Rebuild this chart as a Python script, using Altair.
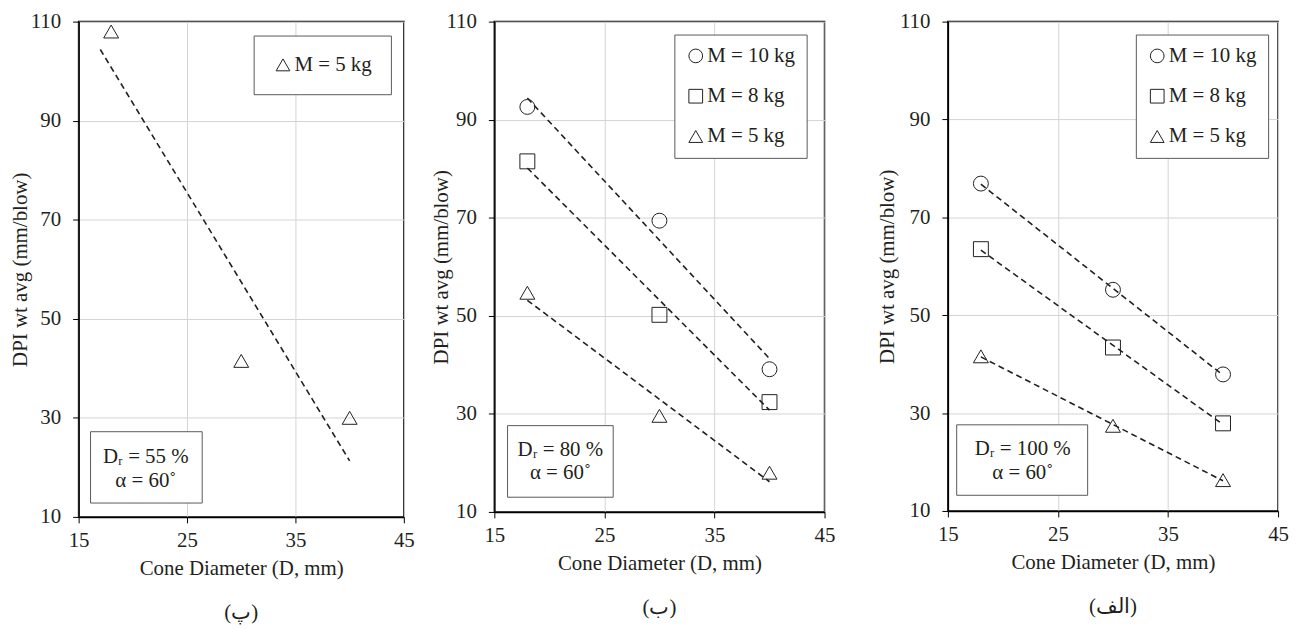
import altair as alt
import pandas as pd

# ---------------- data ----------------
diameters = [18, 30, 40]

dr55_m5 = [108.0, 41.5, 30.0]

dr80_m10 = [92.6, 69.4, 39.1]
dr80_m8 = [81.5, 50.2, 32.4]
dr80_m5 = [54.7, 29.6, 18.0]

dr100_m10 = [76.9, 55.2, 37.9]
dr100_m8 = [63.5, 43.4, 27.9]
dr100_m5 = [41.6, 27.4, 16.3]

mass_labels = ["M = 10 kg", "M = 8 kg", "M = 5 kg"]
mass_shapes = {"M = 10 kg": "circle", "M = 8 kg": "square", "M = 5 kg": "triangle-up"}

x_ticks = [15, 25, 35, 45]
y_ticks = [10, 30, 50, 70, 90, 110]

captions = ["(پ)", "(ب)", "(الف)"]
info_55 = ["Dᵣ = 55 %", "α = 60˚"]
info_80 = ["Dᵣ = 80 %", "α = 60˚"]
info_100 = ["Dᵣ = 100 %", "α = 60˚"]

x_title = "Cone Diameter (D, mm)"
y_title = "DPI wt avg (mm/blow)"

FONT = "Liberation Serif"
INK = "#231f20"
FS = 21


def long_df(series):
    rows = []
    for label, ys in series:
        for d, v in zip(diameters, ys):
            rows.append({"mass": label, "D": d, "DPI": v})
    return pd.DataFrame(rows)


def panel(df, labels, extent, w, h, leg_x, leg_y, leg_pad, box, text_x, text_ys,
          lines, caption, ytp):
    x_enc = alt.X(
        "D:Q",
        scale=alt.Scale(domain=[15, 45], nice=False, zero=False),
        axis=alt.Axis(values=x_ticks, title=x_title, labelFlush=False,
                      labelPadding=7, titlePadding=7),
    )
    y_enc = alt.Y(
        "DPI:Q",
        scale=alt.Scale(domain=[10, 110], nice=False, zero=False),
        axis=alt.Axis(values=y_ticks, title=y_title, labelPadding=12,
                      titlePadding=ytp),
    )
    pts = alt.Chart(df).mark_point(
        filled=False, color=INK, strokeWidth=1, size=225, opacity=1
    ).encode(
        x=x_enc,
        y=y_enc,
        shape=alt.Shape(
            "mass:N",
            scale=alt.Scale(domain=labels, range=[mass_shapes[l] for l in labels]),
            legend=alt.Legend(
                title=None, orient="none", legendX=leg_x, legendY=leg_y,
                padding=leg_pad, fillColor="white", strokeColor="#595959",
                labelFont=FONT, labelFontSize=FS, labelColor=INK,
                symbolSize=190, symbolStrokeWidth=1, symbolStrokeColor=INK,
                rowPadding=18.5, labelOffset=1,
            ),
        ),
    )
    trend = alt.Chart(df).transform_regression(
        "D", "DPI", groupby=["mass"], extent=extent
    ).mark_line(color=INK, strokeDash=[6, 4], strokeWidth=1.6).encode(
        x=x_enc, y=y_enc, detail="mass:N"
    )
    box_df = pd.DataFrame({"D": [box[0]], "D2": [box[1]], "DPI": [box[2]], "DPI2": [box[3]]})
    rect = alt.Chart(box_df).mark_rect(
        fill="white", stroke="#595959", strokeWidth=1
    ).encode(x=x_enc, x2="D2", y=y_enc, y2="DPI2")
    txt_df = pd.DataFrame({"D": [text_x] * len(lines), "DPI": text_ys, "t": lines})
    txt = alt.Chart(txt_df).mark_text(
        font=FONT, fontSize=FS, color=INK, align="center", baseline="middle"
    ).encode(x=x_enc, y=y_enc, text="t:N")
    return alt.layer(rect, trend, pts, txt).properties(
        width=w,
        height=h,
        title=alt.TitleParams(
            caption, orient="bottom", font=FONT, fontSize=21,
            fontWeight="normal", color=INK, offset=24,
        ),
    )


df55 = long_df([("M = 5 kg", dr55_m5)])
df80 = long_df([("M = 10 kg", dr80_m10), ("M = 8 kg", dr80_m8), ("M = 5 kg", dr80_m5)])
df100 = long_df([("M = 10 kg", dr100_m10), ("M = 8 kg", dr100_m8), ("M = 5 kg", dr100_m5)])

p1 = panel(df55, ["M = 5 kg"], [17, 40], 327, 498, 176, 14, 19,
           [16.1, 26.4, 27.2, 12.8], 21.2, [22.0, 17.2], info_55, captions[0], 0)
p2 = panel(df80, mass_labels, [18, 40], 332, 493, 181, 13, 11,
           [16.2, 25.8, 27.6, 13.0], 21.0, [22.6, 18.0], info_80, captions[1], -6)
p3 = panel(df100, mass_labels, [18, 40], 332, 492, 189, 13, 11,
           [15.8, 27.7, 27.6, 13.2], 21.8, [22.6, 17.7], info_100, captions[2], 2)

left = alt.hconcat(p1, p2, spacing=14).resolve_scale(shape="independent").resolve_legend(shape="independent")
chart = alt.hconcat(left, p3, spacing=39).resolve_scale(
    shape="independent"
).resolve_legend(shape="independent").properties(
    padding={"left": 0, "top": 0, "right": 0, "bottom": 0}
).configure_view(
    stroke="black", strokeWidth=1.5
).configure_axis(
    gridColor="#d4d4d4", gridWidth=1, domainColor="black", domainWidth=1.5,
    tickColor="black", tickSize=6, labelFont=FONT, labelFontSize=FS,
    labelColor=INK, titleFont=FONT, titleFontSize=FS, titleFontWeight="normal",
    titleColor=INK, labelOverlap=False,
)

chart.save("out.html", embed_options={"renderer": "svg", "actions": False})
